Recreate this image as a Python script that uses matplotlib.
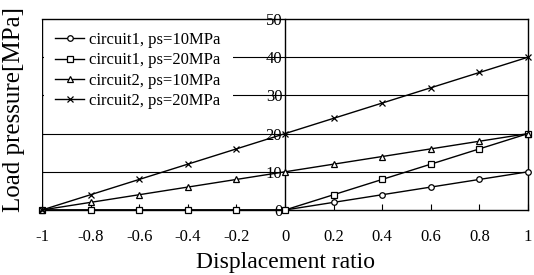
import matplotlib
matplotlib.use("Agg")
import matplotlib.pyplot as plt

plt.rcParams['font.family'] = ['Liberation Serif', 'DejaVu Serif']

x = [-1, -0.8, -0.6, -0.4, -0.2, 0, 0.2, 0.4, 0.6, 0.8, 1]
c1_10 = [0, 0, 0, 0, 0, 0, 2, 4, 6, 8, 10]
c1_20 = [0, 0, 0, 0, 0, 0, 4, 8, 12, 16, 20]
c2_10 = [0, 2, 4, 6, 8, 10, 12, 14, 16, 18, 20]
c2_20 = [0, 4, 8, 12, 16, 20, 24, 28, 32, 36, 40]
labels = ["circuit1, ps=10MPa", "circuit1, ps=20MPa",
          "circuit2, ps=10MPa", "circuit2, ps=20MPa"]
xticks = [-1, -0.8, -0.6, -0.4, -0.2, 0, 0.2, 0.4, 0.6, 0.8, 1]
xticklabels = ["-1", "-0.8", "-0.6", "-0.4", "-0.2", "0", "0.2", "0.4", "0.6", "0.8", "1"]
yticks = [0, 10, 20, 30, 40, 50]

fig = plt.figure(figsize=(5.34, 2.75), dpi=100)
ax = fig.add_axes([42/534, 1 - 210/275, (528 - 42)/534, (210 - 19)/275])

series = [c1_10, c1_20, c2_10, c2_20]
markers = ['o', 's', '^', 'x']
msizes = [4, 4.5, 4.5, 5]
for ys, m, ms, lab in zip(series, markers, msizes, labels):
    ax.plot(x, ys, color='black', lw=1.0, marker=m, ms=ms, mfc='white',
            mec='black', mew=0.9, label=lab, clip_on=False, zorder=3)

ax.set_xlim(-1, 1)
ax.set_ylim(0, 50)
ax.set_yticks(yticks)
ax.set_xticks(xticks)
ax.set_xticklabels(xticklabels)

for yv in yticks[1:-1]:
    ax.axhline(yv, color='black', lw=0.8, zorder=1)
ax.axvline(-1, color='black', lw=1.0, zorder=2)

ax.spines['left'].set_position(('data', 0))
ax.spines['left'].set_linewidth(1.0)
ax.spines['left'].set_zorder(2)
for s in ['top', 'right', 'bottom']:
    ax.spines[s].set_linewidth(1.0)

ax.tick_params(axis='x', direction='in', length=4, width=0.8, pad=14, labelsize=12)
ax.tick_params(axis='y', direction='out', length=0, pad=2, labelsize=12)

ax.set_xlabel("Displacement ratio", fontsize=17, labelpad=5)
fig.text(14/534, 1 - 110/275, "Load pressure[MPa]", rotation=90,
         fontsize=18, ha='center', va='center')

leg = ax.legend(loc='upper left', bbox_to_anchor=(0, 1), borderaxespad=0.1,
                fontsize=12, frameon=True, fancybox=False, borderpad=0.7,
                labelspacing=0.25, handlelength=1.7, handletextpad=0.35)
leg.get_frame().set_facecolor('white')
leg.get_frame().set_edgecolor('none')
leg.get_frame().set_alpha(1)
leg.set_zorder(5)

fig.savefig("out.png", dpi=100)
